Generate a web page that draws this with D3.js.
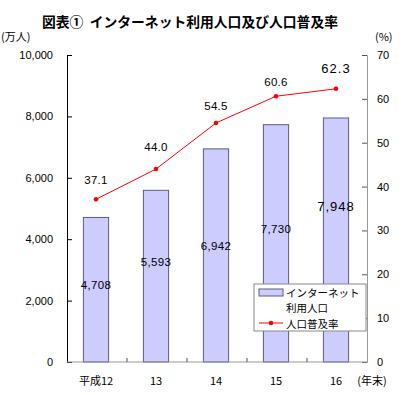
<!DOCTYPE html>
<html>
<head>
<meta charset="utf-8">
<script src="https://cdn.jsdelivr.net/npm/d3@7"></script>
<style>
  body { margin: 0; background: #fff; }
  svg { display: block; }
  text { font-family: "Liberation Sans", Arial, sans-serif; fill: #000; }
  .jp { font-family: "Noto Sans CJK JP", sans-serif; }
</style>
</head>
<body>
<svg id="chart"></svg>
<script>
// データ
var years = ["平成12", "13", "14", "15", "16"];
var users = [4708, 5593, 6942, 7730, 7948];      // 万人
var rates = [37.1, 44.0, 54.5, 60.6, 62.3];      // %
var leftTicks = [0, 2000, 4000, 6000, 8000, 10000];
var rightTicks = [0, 10, 20, 30, 40, 50, 60, 70];
var legendLines = ["インターネット", "利用人口", "人口普及率"];

var width = 404, height = 395;
var svg = d3.select("#chart").attr("width", width).attr("height", height);

var plot = { left: 67, right: 367, top: 55, bottom: 362 };

var x = d3.scaleBand().domain(years).range([plot.left, plot.right]);
var yL = d3.scaleLinear().domain([0, 10000]).range([plot.bottom, plot.top]);
var yR = d3.scaleLinear().domain([0, 70]).range([plot.bottom, plot.top]);
var barW = x.bandwidth() * 0.42;

// タイトル
svg.append("text").attr("class", "jp")
    .attr("x", 42).attr("y", 27)
    .attr("font-size", 13.8).attr("font-weight", "bold")
    .text("図表①\u00a0\u00a0インターネット利用人口及び人口普及率");

svg.append("text").attr("class", "jp").attr("x", 1).attr("y", 41)
    .attr("font-size", 11).text("(万人)");
svg.append("text").attr("class", "jp").attr("x", 375).attr("y", 41)
    .attr("font-size", 11).text("(%)");

// 棒グラフ
svg.selectAll(".bar").data(users).enter().append("rect")
    .attr("class", "bar")
    .attr("x", (d, i) => x(years[i]) + (x.bandwidth() - barW) / 2 - 1)
    .attr("y", d => yL(d))
    .attr("width", barW)
    .attr("height", d => plot.bottom - yL(d))
    .attr("fill", "#ccccff")
    .attr("stroke", "#5c5c7c")
    .attr("stroke-width", 1);

// 左軸
var gL = svg.append("g").attr("transform", "translate(" + plot.left + ",0)");
gL.call(d3.axisRight(yL).tickValues(leftTicks).tickSize(5).tickFormat(""));
gL.select(".domain").attr("stroke", "#000");
gL.selectAll(".tick line").attr("stroke", "#000");
svg.selectAll(".lt").data(leftTicks).enter().append("text")
    .attr("x", 53).attr("y", d => yL(d) + 4)
    .attr("text-anchor", "end").attr("font-size", 11)
    .text(d => d3.format(",")(d));

// 右軸
var gR = svg.append("g").attr("transform", "translate(" + plot.right + ",0)");
gR.call(d3.axisLeft(yR).tickValues(rightTicks).tickSize(5).tickFormat(""));
gR.select(".domain").attr("stroke", "#999");
gR.selectAll(".tick line").attr("stroke", "#555");
svg.selectAll(".rt").data(rightTicks).enter().append("text")
    .attr("x", 377).attr("y", d => yR(d) + 4)
    .attr("font-size", 11)
    .text(d => d);

// 下軸
svg.append("line")
    .attr("x1", plot.left).attr("x2", plot.right)
    .attr("y1", plot.bottom).attr("y2", plot.bottom)
    .attr("stroke", "#999");
svg.selectAll(".xt").data(years.slice(1)).enter().append("line")
    .attr("x1", d => x(d)).attr("x2", d => x(d))
    .attr("y1", plot.bottom).attr("y2", plot.bottom - 4)
    .attr("stroke", "#555");
svg.selectAll(".xl").data(years).enter().append("text")
    .attr("class", "jp")
    .attr("x", d => x(d) + x.bandwidth() / 2 - 1)
    .attr("y", 385).attr("text-anchor", "middle")
    .attr("font-size", 11)
    .text(d => d);
svg.append("text").attr("class", "jp")
    .attr("x", 372).attr("y", 385).attr("text-anchor", "middle")
    .attr("font-size", 11).text("(年末)");

// 折れ線
var cx = (d, i) => x(years[i]) + x.bandwidth() / 2 - 1;
svg.append("path").datum(rates)
    .attr("fill", "none").attr("stroke", "#ff0000").attr("stroke-width", 1)
    .attr("d", d3.line().x(cx).y(d => yR(d)));
svg.selectAll(".pt").data(rates).enter().append("circle")
    .attr("cx", cx).attr("cy", d => yR(d)).attr("r", 2.3)
    .attr("fill", "#ff0000");

// ラベル
var rateDy = [-15, -18, -13, -10, -16];
svg.selectAll(".rl").data(rates).enter().append("text")
    .attr("x", cx).attr("y", (d, i) => yR(d) + rateDy[i])
    .attr("text-anchor", "middle")
    .attr("font-size", (d, i) => i === 4 ? 13 : 11.5)
    .attr("letter-spacing", (d, i) => i === 4 ? 1 : 0.3)
    .text(d => d3.format(".1f")(d));

var barDy = [72, 76, 101, 108, 93];
svg.selectAll(".bl").data(users).enter().append("text")
    .attr("x", cx).attr("y", (d, i) => yL(d) + barDy[i])
    .attr("text-anchor", "middle")
    .attr("font-size", (d, i) => i === 4 ? 13 : 11.5)
    .attr("letter-spacing", (d, i) => i === 4 ? 1 : 0.3)
    .text(d => d3.format(",")(d));

// 凡例
var lg = svg.append("g");
lg.append("rect").attr("x", 254).attr("y", 284).attr("width", 112).attr("height", 47)
    .attr("fill", "#fff").attr("stroke", "#888");
lg.append("rect").attr("x", 259).attr("y", 289).attr("width", 24).attr("height", 7)
    .attr("fill", "#ccccff").attr("stroke", "#5c5c7c");
lg.append("line").attr("x1", 259).attr("x2", 283).attr("y1", 323).attr("y2", 323)
    .attr("stroke", "#ff0000");
lg.append("circle").attr("cx", 271).attr("cy", 323).attr("r", 2.3).attr("fill", "#ff0000");
var legendY = [296.5, 312, 327.5];
lg.append("text").attr("class", "jp").attr("font-size", 10.5)
    .selectAll("tspan").data(legendLines).enter().append("tspan")
    .attr("x", 286).attr("y", (d, i) => legendY[i])
    .text(d => d);
</script>
</body>
</html>
